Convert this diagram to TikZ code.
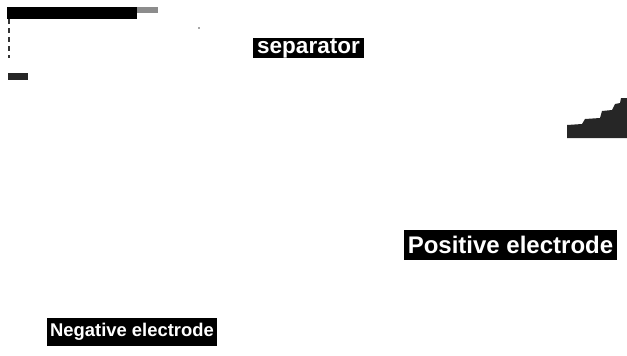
\documentclass[tikz,border=0pt]{standalone}
\usepackage{fontspec}
\setmainfont{Liberation Sans}
\begin{document}
\begin{tikzpicture}[x=1pt,y=-1pt,
  labelbox/.style={fill=black,text=white,inner sep=0pt,font=\bfseries,align=center},
  smudge/.style={fill=black!85,draw=none}]
\useasboundingbox (0,0) rectangle (627,356);
% top-left bar
\fill[black] (7,7) rectangle (137,19);
\fill[black!45] (137,7) rectangle (158,13);
\draw[black!80,line width=1.3pt,dash pattern=on 5pt off 4pt] (9,19) -- (9,58);
\fill[smudge] (8,73) rectangle (28,80);
\fill[black!70] (199,28) circle (0.8);
% right staircase smudge
\fill[smudge] (567,138) -- (567,125) -- (582,124) -- (585,119) -- (600,118) -- (602,111)
  -- (612,110) -- (615,104) -- (620,103) -- (621,98) -- (627,98) -- (627,138) -- cycle;
% labels
\node[labelbox,minimum width=111pt,minimum height=20pt,font=\bfseries\fontsize{22.5}{22.5}\selectfont] (sep) at (308.5,48) {\raisebox{-1pt}{separator}};
\node[labelbox,minimum width=213pt,minimum height=30pt,font=\bfseries\fontsize{24}{24}\selectfont] (pos) at (510.5,245) {Positive electrode};
\node[labelbox,minimum width=170pt,minimum height=28pt,font=\bfseries\fontsize{18.4}{18.4}\selectfont] (neg) at (132,332) {Negative electrode};
\end{tikzpicture}
\end{document}
